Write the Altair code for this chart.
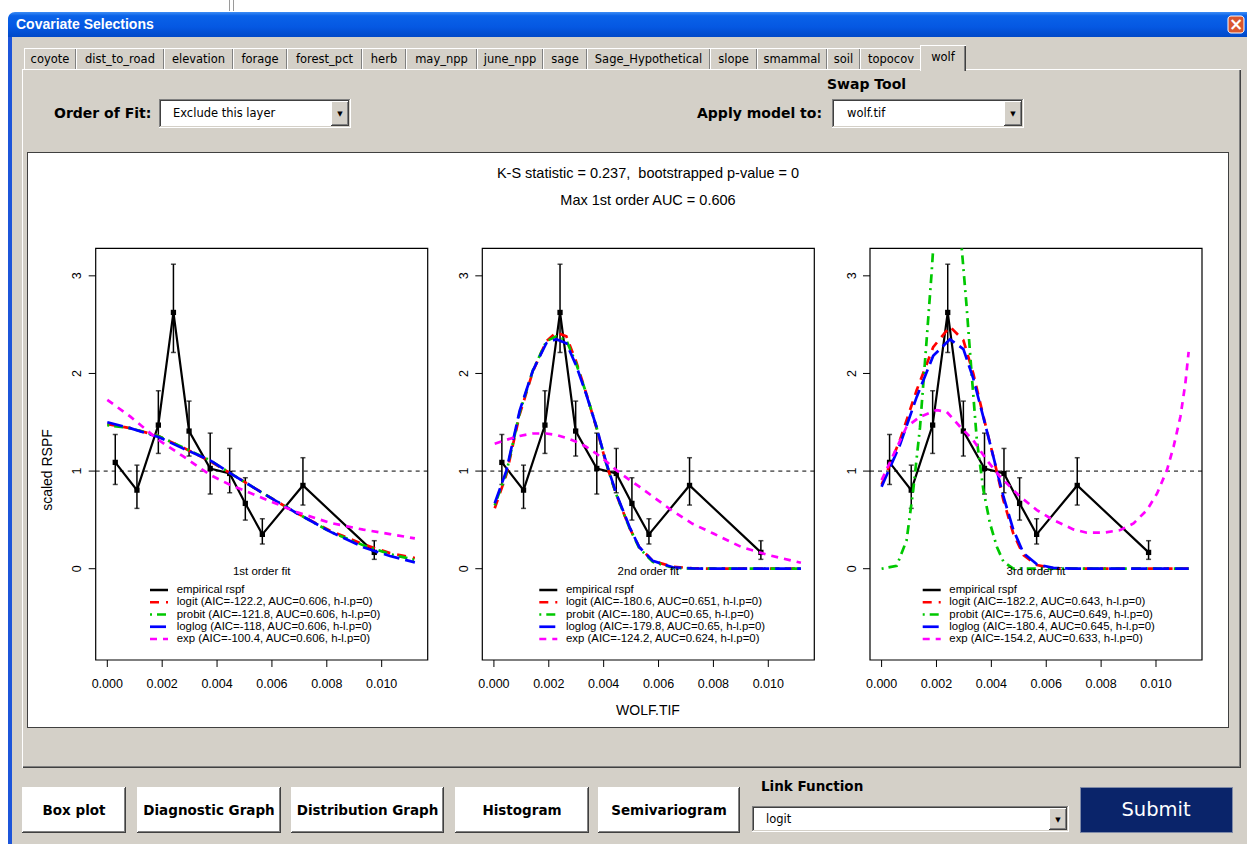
import altair as alt
import pandas as pd

W, H = 1247, 844
FACE = "#D4D0C8"
GUI_FONT = "DejaVu Sans"
PLOT_FONT = "Liberation Sans"

# ---------------------------------------------------------------- data
# empirical RSPF per covariate bin, with its interval
emp_x = [0.00029, 0.00108, 0.00186, 0.00241, 0.00298, 0.00375, 0.00446, 0.00503, 0.00565, 0.00713, 0.00973]
emp_y = [1.089, 0.805, 1.471, 2.625, 1.410, 1.027, 0.976, 0.669, 0.352, 0.853, 0.167]
emp_lo = [0.863, 0.618, 1.181, 2.215, 1.154, 0.765, 0.778, 0.498, 0.253, 0.652, 0.096]
emp_hi = [1.375, 1.061, 1.823, 3.119, 1.717, 1.389, 1.232, 0.932, 0.512, 1.137, 0.287]

# 1st order fits
fit1_x = [0.0, 0.00083, 0.00186, 0.00277, 0.00375, 0.00447, 0.00569, 0.0069, 0.00812, 0.00933, 0.0103, 0.01121]
logit1 = [1.48, 1.44, 1.36, 1.24, 1.10, 0.98, 0.77, 0.57, 0.39, 0.25, 0.16, 0.11]
probit1 = [1.47, 1.44, 1.36, 1.24, 1.11, 0.98, 0.77, 0.57, 0.38, 0.24, 0.15, 0.09]
loglog1 = [1.50, 1.44, 1.35, 1.23, 1.11, 0.98, 0.77, 0.57, 0.38, 0.22, 0.13, 0.065]
exp1 = [1.73, 1.56, 1.32, 1.15, 0.96, 0.86, 0.72, 0.58, 0.47, 0.40, 0.355, 0.31]

# 2nd order fits
fit2_x = [0.00003, 0.00045, 0.00094, 0.00142, 0.00191, 0.00227, 0.00264, 0.003, 0.00336, 0.00373,
          0.00409, 0.00446, 0.00494, 0.0053, 0.00579, 0.00652, 0.00724, 0.008, 0.009, 0.01, 0.01119]
logit2 = [0.62, 0.96, 1.58, 2.02, 2.33, 2.42, 2.38, 2.12, 1.80, 1.45, 1.08, 0.76, 0.42, 0.22, 0.08, 0.02, 0.005, 0.0, 0.0, 0.0, 0.0]
probit2 = [0.65, 0.98, 1.60, 2.03, 2.33, 2.38, 2.34, 2.10, 1.80, 1.46, 1.08, 0.76, 0.42, 0.21, 0.07, 0.01, 0.0, 0.0, 0.0, 0.0, 0.0]
loglog2 = [0.67, 1.00, 1.62, 2.03, 2.31, 2.35, 2.31, 2.08, 1.79, 1.46, 1.09, 0.77, 0.43, 0.22, 0.08, 0.015, 0.003, 0.0, 0.0, 0.0, 0.0]
exp2 = [1.28, 1.32, 1.36, 1.385, 1.385, 1.37, 1.34, 1.30, 1.25, 1.18, 1.10, 1.01, 0.91, 0.84, 0.74, 0.59, 0.46, 0.36, 0.225, 0.14, 0.061]

# 3rd order fits
fit3_x = [0.0, 0.00067, 0.00128, 0.00188, 0.00249, 0.00298, 0.00334, 0.00371, 0.00407, 0.00444,
          0.0048, 0.00517, 0.00566, 0.00626, 0.007, 0.008, 0.009, 0.01, 0.01119]
logit3 = [0.86, 1.32, 1.83, 2.27, 2.48, 2.34, 2.00, 1.56, 1.15, 0.70, 0.36, 0.14, 0.037, 0.003, 0.0, 0.0, 0.0, 0.0, 0.0]
loglog3 = [0.84, 1.27, 1.76, 2.18, 2.35, 2.25, 1.95, 1.55, 1.15, 0.74, 0.40, 0.16, 0.045, 0.008, 0.0, 0.0, 0.0, 0.0, 0.0]
# probit runs off the top of the panel between its two pieces
probit3_xa = [0.0, 0.00055, 0.00091, 0.00115, 0.0014, 0.00164, 0.00182, 0.00188]
probit3_a = [0.0, 0.03, 0.29, 0.80, 1.45, 2.34, 3.02, 3.282]
probit3_xb = [0.00292, 0.0031, 0.00328, 0.00347, 0.00371, 0.00395, 0.0042, 0.00444, 0.0048, 0.006, 0.008, 0.01, 0.01119]
probit3_b = [3.282, 2.68, 2.00, 1.32, 0.805, 0.464, 0.225, 0.072, 0.0, 0.0, 0.0, 0.0, 0.0]
exp3_x = [0.0, 0.00091, 0.0014, 0.00201, 0.00237, 0.00286, 0.00334, 0.00383, 0.00432, 0.00505, 0.00566, 0.00626,
          0.00699, 0.00748, 0.00809, 0.0087, 0.00918, 0.00967, 0.01004, 0.0104, 0.01064, 0.01089, 0.01107, 0.01119]
exp3 = [0.908, 1.454, 1.556, 1.625, 1.608, 1.454, 1.317, 1.113, 0.942, 0.737, 0.601, 0.498,
        0.403, 0.369, 0.369, 0.396, 0.464, 0.601, 0.771, 1.01, 1.249, 1.556, 1.898, 2.222]

MODELS = ["empirical rspf", "logit", "probit", "loglog", "exp"]
legend1 = ["empirical rspf", "logit (AIC=-122.2, AUC=0.606, h-l.p=0)", "probit (AIC=-121.8, AUC=0.606, h-l.p=0)",
           "loglog (AIC=-118, AUC=0.606, h-l.p=0)", "exp (AIC=-100.4, AUC=0.606, h-l.p=0)"]
legend2 = ["empirical rspf", "logit (AIC=-180.6, AUC=0.651, h-l.p=0)", "probit (AIC=-180, AUC=0.65, h-l.p=0)",
           "loglog (AIC=-179.8, AUC=0.65, h-l.p=0)", "exp (AIC=-124.2, AUC=0.624, h-l.p=0)"]
legend3 = ["empirical rspf", "logit (AIC=-182.2, AUC=0.643, h-l.p=0)", "probit (AIC=-175.6, AUC=0.649, h-l.p=0)",
           "loglog (AIC=-180.4, AUC=0.645, h-l.p=0)", "exp (AIC=-154.2, AUC=0.633, h-l.p=0)"]

ks_text = "K-S statistic = 0.237,\u00a0 bootstrapped p-value = 0"
auc_text = "Max 1st order AUC = 0.606"
x_title = "WOLF.TIF"
y_title = "scaled RSPF"

tab_names = ["coyote", "dist_to_road", "elevation", "forage", "forest_pct", "herb", "may_npp", "june_npp",
             "sage", "Sage_Hypothetical", "slope", "smammal", "soil", "topocov", "wolf"]
button_names = ["Box plot", "Diagnostic Graph", "Distribution Graph", "Histogram", "Semivariogram"]

# axis tick values shared by the panels
X_TICKS = [0.0, 0.002, 0.004, 0.006, 0.008, 0.010]
Y_TICKS = [0, 1, 2, 3]

# ---------------------------------------------------------------- panel geometry
X_DOM = [-0.000423, 0.011677]
Y_DOM = [-0.935, 3.282]
PANEL_W = 332
TOP, BOT = 248.3, 660.0
TICK_LEN = 7
LEG_TOP, LEG_STEP = 590.0, 12.25
FIT_WIDTH = 2.7

color_scale = alt.Scale(domain=MODELS, range=["#000000", "#FF0000", "#00C800", "#0000FF", "#FF00FF"])
dash_scale = alt.Scale(domain=MODELS, range=[[1, 0], [9, 7], [2, 5, 9, 5], [16, 6], [7, 6]])


def curves_frame(fits):
    rows = []
    for model, pieces in fits.items():
        for k, (xs, ys) in enumerate(pieces):
            for xv, yv in zip(xs, ys):
                rows.append({"model": model, "seg": f"{model}-{k}", "x": xv, "y": yv})
    return pd.DataFrame(rows)


emp_df = pd.DataFrame({"x": emp_x, "y": emp_y, "lo": emp_lo, "hi": emp_hi})
xt_df = pd.DataFrame({"v": X_TICKS})
yt_df = pd.DataFrame({"v": Y_TICKS})


def panel(left, fits, labels, subtitle, sample_x, label_x):
    xs = alt.Scale(domain=X_DOM, range=[left, left + PANEL_W], nice=False, zero=False)
    ys = alt.Scale(domain=Y_DOM, range=[BOT, TOP], nice=False, zero=False)
    one = pd.DataFrame({"k": [0]})
    ex = alt.X("x:Q", axis=None)

    frame = alt.Chart(one).mark_rect(fill="transparent", stroke="black", strokeWidth=1.2).encode(
        x=alt.XDatum(X_DOM[0], type="quantitative", scale=xs, axis=None),
        x2=alt.X2Datum(X_DOM[1]),
        y=alt.YDatum(Y_DOM[0], type="quantitative", scale=ys, axis=None),
        y2=alt.Y2Datum(Y_DOM[1]),
    )
    # axis ticks and labels, placed through the panel scales
    x_ticks = alt.Chart(xt_df).mark_rule(color="black", strokeWidth=1).encode(
        x=alt.X("v:Q", axis=None), y=alt.value(BOT), y2=alt.value(BOT + TICK_LEN))
    x_labels = alt.Chart(xt_df).mark_text(font=PLOT_FONT, fontSize=12.5, color="black", baseline="middle").encode(
        x=alt.X("v:Q", axis=None), y=alt.value(BOT + 23.5), text=alt.Text("v:Q", format=".3f"))
    y_ticks = alt.Chart(yt_df).mark_rule(color="black", strokeWidth=1).encode(
        y=alt.Y("v:Q", axis=None), x=alt.value(left - TICK_LEN), x2=alt.value(left))
    y_labels = alt.Chart(yt_df).mark_text(font=PLOT_FONT, fontSize=12.5, color="black", baseline="middle",
                                         angle=270).encode(
        y=alt.Y("v:Q", axis=None), x=alt.value(left - 18.5), text=alt.Text("v:Q", format="d"))

    ref = alt.Chart(one).mark_rule(color="black", strokeWidth=1, strokeDash=[4, 4]).encode(
        x=alt.XDatum(X_DOM[0], type="quantitative", axis=None),
        x2=alt.X2Datum(X_DOM[1]),
        y=alt.YDatum(1, type="quantitative", axis=None),
    )
    emp_line = alt.Chart(emp_df).mark_line(color="black", strokeWidth=2.2).encode(
        x=ex, y=alt.Y("y:Q", axis=None))
    bars = alt.Chart(emp_df).mark_rule(color="black", strokeWidth=1.5).encode(
        x=ex, y=alt.Y("lo:Q", axis=None), y2="hi:Q")
    cap_lo = alt.Chart(emp_df).mark_tick(color="black", orient="horizontal", size=5, thickness=1.5).encode(
        x=ex, y=alt.Y("lo:Q", axis=None))
    cap_hi = alt.Chart(emp_df).mark_tick(color="black", orient="horizontal", size=5, thickness=1.5).encode(
        x=ex, y=alt.Y("hi:Q", axis=None))
    squares = alt.Chart(emp_df).mark_square(color="black", size=28, opacity=1).encode(
        x=ex, y=alt.Y("y:Q", axis=None))

    cdf = curves_frame(fits)
    fit_layers = []
    for model in MODELS[1:]:
        fit_layers.append(
            alt.Chart(cdf[cdf.model == model]).mark_line(strokeWidth=FIT_WIDTH, strokeCap="butt").encode(
                x=ex, y=alt.Y("y:Q", axis=None),
                color=alt.Color("model:N", scale=color_scale, legend=None),
                strokeDash=alt.StrokeDash("model:N", scale=dash_scale, legend=None),
                detail="seg:N",
            )
        )

    sub = alt.Chart(one).mark_text(font=PLOT_FONT, fontSize=11.5, color="black", baseline="middle").encode(
        x=alt.XDatum((X_DOM[0] + X_DOM[1]) / 2, type="quantitative", axis=None),
        y=alt.YDatum(-0.03, type="quantitative", axis=None),
        text=alt.value(subtitle),
    )

    leg = alt.Chart(pd.DataFrame({"model": MODELS, "label": labels, "row": range(len(MODELS))})
                    ).transform_calculate(ly=f"{LEG_TOP} + datum.row * {LEG_STEP}")
    leg_lines = leg.mark_rule(strokeWidth=FIT_WIDTH, strokeCap="butt").encode(
        x=alt.value(sample_x), x2=alt.value(sample_x + 18),
        y=alt.Y("ly:Q", scale=None),
        color=alt.Color("model:N", scale=color_scale, legend=None),
        strokeDash=alt.StrokeDash("model:N", scale=dash_scale, legend=None),
    )
    leg_text = leg.mark_text(font=PLOT_FONT, fontSize=11.4, color="black", align="left", baseline="middle").encode(
        x=alt.value(label_x), y=alt.Y("ly:Q", scale=None), text="label:N")

    return alt.layer(frame, x_ticks, x_labels, y_ticks, y_labels, ref, emp_line, bars, cap_lo, cap_hi,
                     squares, *fit_layers, sub, leg_lines, leg_text)


p1 = panel(95.7, {"logit": [(fit1_x, logit1)], "probit": [(fit1_x, probit1)],
                  "loglog": [(fit1_x, loglog1)], "exp": [(fit1_x, exp1)]},
           legend1, "1st order fit", 150.0, 176.7)
p2 = panel(482.3, {"logit": [(fit2_x, logit2)], "probit": [(fit2_x, probit2)],
                   "loglog": [(fit2_x, loglog2)], "exp": [(fit2_x, exp2)]},
           legend2, "2nd order fit", 539.3, 566.0)
p3 = panel(870.0, {"logit": [(fit3_x, logit3)],
                   "probit": [(probit3_xa, probit3_a), (probit3_xb, probit3_b)],
                   "loglog": [(fit3_x, loglog3)], "exp": [(exp3_x, exp3)]},
           legend3, "3rd order fit", 922.7, 949.3)

# ---------------------------------------------------------------- dialog window
rects = []


def box(x0, y0, x1, y1, fill):
    rects.append({"x": x0, "x2": x1, "y": y0, "y2": y1, "fill": fill})


def raised(x0, y0, x1, y1, face=FACE):
    box(x0, y0, x1, y1, "#404040")
    box(x0, y0, x1 - 1, y1 - 1, "#FFFFFF")
    box(x0 + 1, y0 + 1, x1 - 1, y1 - 1, "#808080")
    box(x0 + 1, y0 + 1, x1 - 2, y1 - 2, face)


def sunken(x0, y0, x1, y1, face="#FFFFFF"):
    box(x0, y0, x1, y1, "#FFFFFF")
    box(x0, y0, x1 - 1, y1 - 1, "#808080")
    box(x0 + 1, y0 + 1, x1 - 1, y1 - 1, FACE)
    box(x0 + 1, y0 + 1, x1 - 2, y1 - 2, "#404040")
    box(x0 + 2, y0 + 2, x1 - 2, y1 - 2, face)


box(229, 0, 230, 11, "#9A9A9A")
box(233, 0, 234, 11, "#9A9A9A")
box(8, 20, 12, 844, "#1C55DA")
box(12, 37, 1247, 844, FACE)

tab_edges = [24, 76, 164, 233, 287, 362, 406, 477, 543, 587, 710, 757, 827, 860, 922, 964]
for i in range(len(tab_names) - 1):
    x0, x1 = tab_edges[i], tab_edges[i + 1]
    box(x0, 48, x1, 70, "#FFFFFF")
    box(x0 + 1, 49, x1, 70, "#808080")
    box(x0 + 1, 49, x1 - 1, 70, FACE)
# tab page
box(22, 69, 1241, 768, "#FFFFFF")
box(23, 70, 1241, 768, "#404040")
box(23, 70, 1240, 767, "#808080")
box(23, 70, 1239, 766, FACE)
# selected tab
box(920, 45, 966, 71, "#FFFFFF")
box(921, 46, 966, 71, "#404040")
box(921, 46, 965, 71, "#808080")
box(921, 46, 964, 71, FACE)
# combo boxes
sunken(159, 99, 351, 128)
raised(331, 101, 349, 126)
sunken(832, 99, 1024, 128)
raised(1004, 101, 1022, 126)
# plotting canvas
box(27, 152, 1229, 728, "#404040")
box(28, 153, 1228, 727, "#FFFFFF")
# bottom buttons
button_spans = [(22, 126), (137, 281), (291, 444), (455, 589), (598, 740)]
for x0, x1 in button_spans:
    raised(x0, 787, x1, 833, "#FFFFFF")
sunken(752, 806, 1069, 832)
raised(1049, 808, 1067, 830)
box(1080, 787, 1233, 833, "#7F8AA8")
box(1081, 788, 1232, 832, "#0A246A")

rect_layer = alt.Chart(pd.DataFrame(rects)).mark_rect().encode(
    x=alt.X("x:Q", scale=None), x2="x2:Q", y=alt.Y("y:Q", scale=None), y2="y2:Q",
    fill=alt.Fill("fill:N", scale=None))

title_grad = alt.LinearGradient(
    gradient="linear", x1=0, x2=0, y1=0, y2=1,
    stops=[alt.GradientStop(color="#3D8DF5", offset=0), alt.GradientStop(color="#0A62E8", offset=0.15),
           alt.GradientStop(color="#0558E2", offset=0.6), alt.GradientStop(color="#0049C8", offset=1)])
title_bar = alt.Chart(pd.DataFrame({"x": [8], "x2": [1247], "y": [12], "y2": [37]})).mark_rect(
    fill=title_grad, cornerRadiusTopLeft=7).encode(
    x=alt.X("x:Q", scale=None), x2="x2:Q", y=alt.Y("y:Q", scale=None), y2="y2:Q")
close_btn = alt.Chart(pd.DataFrame({"x": [1228], "x2": [1244], "y": [16], "y2": [33]})).mark_rect(
    fill="#D9572F", stroke="#FFFFFF", strokeWidth=1, cornerRadius=3).encode(
    x=alt.X("x:Q", scale=None), x2="x2:Q", y=alt.Y("y:Q", scale=None), y2="y2:Q")


def text_layer(rows, **style):
    df = pd.DataFrame(rows, columns=["x", "y", "text", "size"])
    return alt.Chart(df).mark_text(baseline="middle", **style).encode(
        x=alt.X("x:Q", scale=None), y=alt.Y("y:Q", scale=None), text="text:N",
        size=alt.Size("size:Q", scale=None))


tab_rows = []
for i, name in enumerate(tab_names):
    cy = 57.5 if name == "wolf" else 59.5
    tab_rows.append(((tab_edges[i] + tab_edges[i + 1]) / 2, cy, name, 11.5))
tabs_text = text_layer(tab_rows, font=GUI_FONT, color="black", align="center")

gui_plain = text_layer([(173, 113.5, "Exclude this layer", 11.5), (847, 113.5, "wolf.tif", 11.5),
                        (766, 819.5, "logit", 11.5)], font=GUI_FONT, color="black", align="left")
gui_bold = text_layer([(54, 113.5, "Order of Fit:", 14), (827, 84.5, "Swap Tool", 14),
                       (697, 113.5, "Apply model to:", 14), (761, 787, "Link Function", 13.5)],
                      font=GUI_FONT, fontWeight="bold", color="black", align="left")
btn_text = text_layer([((a + b) / 2, 810.5, n, 13.5) for (a, b), n in zip(button_spans, button_names)],
                      font=GUI_FONT, fontWeight="bold", color="black", align="center")
arrows = text_layer([(340, 114, "\u25bc", 7), (1013, 114, "\u25bc", 7), (1058, 819.5, "\u25bc", 7)],
                    font=GUI_FONT, color="black", align="center")
caption = text_layer([(16, 24.5, "Covariate Selections", 14)], font=PLOT_FONT, fontWeight="bold",
                     color="white", align="left")
close_x = text_layer([(1236, 24.5, "\u00d7", 17)], font=GUI_FONT, fontWeight="bold", color="white",
                     align="center")
submit = text_layer([(1156, 810, "Submit", 19.5)], font=GUI_FONT, color="white", align="center")

plot_text = text_layer([(648, 174, ks_text, 14.5), (648, 201, auc_text, 14.5), (648, 711, x_title, 14)],
                       font=PLOT_FONT, color="black", align="center")
ylab = text_layer([(48, 470, y_title, 14)], font=PLOT_FONT, color="black", align="center", angle=270)

chart = alt.layer(
    rect_layer, title_bar, close_btn, caption, close_x, tabs_text, gui_plain, gui_bold, arrows,
    btn_text, submit, plot_text, ylab, p1, p2, p3,
).resolve_scale(x="independent", y="independent").properties(
    width=W, height=H, padding=0, autosize="none", background="white"
).configure_view(stroke=None)

chart.save("out.html", embed_options={"renderer": "svg", "actions": False})
